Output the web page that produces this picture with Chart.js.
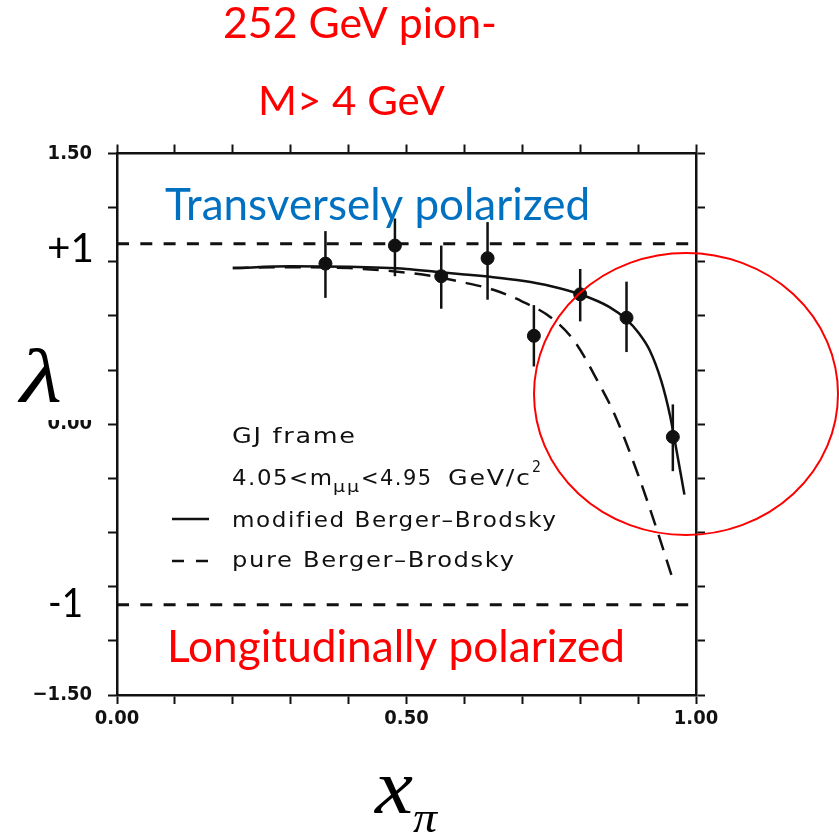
<!DOCTYPE html>
<html lang="en">
<head>
<meta charset="UTF-8">
<title>Lambda vs x_pi</title>
<script src="https://cdn.jsdelivr.net/npm/chart.js@4.4.0/dist/chart.umd.min.js"></script>
<style>
  html, body { margin: 0; padding: 0; background: #fff; }
  canvas { display: block; }
</style>
</head>
<body>
<canvas id="lambdaChart" width="839" height="835"></canvas>
<script>
// lambda measured in bins of x_pi (GJ frame, 4.05 < m < 4.95 GeV)
const xPi       = [0.36, 0.48, 0.56, 0.64, 0.72, 0.80, 0.88, 0.96];
const lambdaVal = [0.89, 0.99, 0.82, 0.92, 0.49, 0.72, 0.59, -0.07];
const lambdaHi  = [1.07, 1.14, 0.99, 1.12, 0.66, 0.86, 0.79, 0.11];
const lambdaLo  = [0.70, 0.82, 0.64, 0.69, 0.32, 0.57, 0.40, -0.26];

// modified Berger-Brodsky
const modX = [0.20, 0.30, 0.40, 0.50, 0.55, 0.60, 0.65, 0.70, 0.75, 0.80, 0.85, 0.88, 0.90, 0.92, 0.94, 0.955, 0.965, 0.98];
const modY = [0.865, 0.875, 0.872, 0.86, 0.845, 0.83, 0.815, 0.795, 0.765, 0.72, 0.65, 0.58, 0.51, 0.41, 0.24, 0.05, -0.12, -0.39];

// pure Berger-Brodsky
const pureX = [0.20, 0.30, 0.40, 0.50, 0.55, 0.60, 0.65, 0.70, 0.75, 0.79, 0.83, 0.86, 0.90, 0.93, 0.96];
const pureY = [0.865, 0.87, 0.865, 0.84, 0.818, 0.785, 0.745, 0.68, 0.59, 0.46, 0.24, 0.05, -0.28, -0.56, -0.86];

// lambda = +1 / -1 limits
const limitX = [0, 1];
const limitUp = [1, 1];
const limitDown = [-1, -1];

const xLabels = [0, 0.5, 1];
const yLabels = [-1.5, 0, 1.5];

const ink = '#111';
const pairs = (xs, ys) => xs.map((x, i) => ({ x: x, y: ys[i] }));

function tickText(v, list) {
  for (const t of list) {
    if (Math.abs(v - t) < 1e-6) return t.toFixed(2).replace('-', '\u2212');
  }
  return '';
}

const tickFont = { family: 'DejaVu Sans Condensed', size: 20, weight: 'bold' };
const grid = { drawOnChartArea: false, drawTicks: true, tickLength: 9, tickWidth: 2, tickColor: ink };
const border = { display: true, color: ink, width: 2.5 };

// stretch text horizontally to a given width
function fitText(ctx, text, left, baseline, width, font, color, spacing) {
  ctx.save();
  ctx.font = font;
  ctx.fillStyle = color;
  ctx.textAlign = 'left';
  ctx.textBaseline = 'alphabetic';
  ctx.letterSpacing = (spacing || 0) + 'px';
  const w = ctx.measureText(text).width - (spacing || 0);
  ctx.translate(left, baseline);
  ctx.scale(width / w, 1);
  ctx.fillText(text, 0, 0);
  ctx.restore();
}

// legend lettering: a little tracking, then stretched to width
function legendText(ctx, text, left, baseline, width, size) {
  fitText(ctx, text, left, baseline, width, size + 'px "DejaVu Sans"', ink, 1.5);
}

const errorBars = {
  id: 'errorBars',
  afterDatasetsDraw(chart) {
    const { ctx, scales } = chart;
    ctx.save();
    ctx.strokeStyle = ink;
    ctx.lineWidth = 2.5;
    xPi.forEach((x, i) => {
      const px = scales.x.getPixelForValue(x);
      ctx.beginPath();
      ctx.moveTo(px, scales.y.getPixelForValue(lambdaLo[i]));
      ctx.lineTo(px, scales.y.getPixelForValue(lambdaHi[i]));
      ctx.stroke();
    });
    ctx.restore();
  }
};

const annotations = {
  id: 'annotations',
  afterDraw(chart) {
    const ctx = chart.ctx;

    // legend block inside the frame
    legendText(ctx, 'GJ frame', 232, 443, 123, 22);
    legendText(ctx, '4.05<m', 232, 485, 100, 22);
    legendText(ctx, '\u03bc\u03bc', 333, 492, 26, 15);
    legendText(ctx, '<4.95', 361, 485, 70, 22);
    legendText(ctx, 'GeV/c', 448, 485, 82, 22);
    legendText(ctx, '2', 532, 472, 9, 16);
    legendText(ctx, 'modified Berger\u2013Brodsky', 232, 527, 324, 22);
    legendText(ctx, 'pure Berger\u2013Brodsky', 232, 567, 282, 22);

    ctx.save();
    ctx.strokeStyle = ink;
    ctx.lineWidth = 2.5;
    ctx.beginPath();
    ctx.moveTo(172, 519); ctx.lineTo(209, 519);
    ctx.moveTo(172, 561); ctx.lineTo(184, 561);
    ctx.moveTo(196, 561); ctx.lineTo(208, 561);
    ctx.stroke();
    ctx.restore();

    // axis titles; the lambda box hides the top of the 0.00 label
    ctx.fillStyle = '#fff';
    ctx.fillRect(0, 330, 104, 90);
    fitText(ctx, '\u03bb', 20, 402, 42, 'italic 76px "Liberation Serif"', '#000');
    fitText(ctx, 'x', 375, 813, 38, 'italic 78px "Liberation Serif"', '#000');
    fitText(ctx, '\u03c0', 413, 832, 24, 'italic 44px "Liberation Serif"', '#000');

    fitText(ctx, '+1', 47, 262, 47, '40px Lato', '#000');
    fitText(ctx, '-1', 48, 617, 35, '40px Lato', '#000');

    fitText(ctx, '252 GeV pion-', 223, 38, 274, '42px Lato', '#ff0000');
    fitText(ctx, 'M> 4 GeV', 258, 115, 187, '40px Lato', '#ff0000');
    fitText(ctx, 'Transversely polarized', 165, 220, 425, '44px Lato', '#0070c0');
    fitText(ctx, 'Longitudinally polarized', 167, 662, 458, '44px Lato', '#ff0000');

    ctx.save();
    ctx.strokeStyle = '#ff0000';
    ctx.lineWidth = 2;
    ctx.beginPath();
    ctx.ellipse(686, 394, 152, 141, 0, 0, Math.PI * 2);
    ctx.stroke();
    ctx.restore();
  }
};

new Chart(document.getElementById('lambdaChart'), {
  type: 'scatter',
  data: {
    datasets: [
      {
        label: 'data',
        data: pairs(xPi, lambdaVal),
        pointRadius: 6.5,
        pointBackgroundColor: ink,
        pointBorderColor: ink,
        showLine: false
      },
      {
        label: 'modified Berger-Brodsky',
        data: pairs(modX, modY),
        showLine: true,
        borderColor: ink,
        borderWidth: 2.5,
        pointRadius: 0,
        cubicInterpolationMode: 'monotone'
      },
      {
        label: 'pure Berger-Brodsky',
        data: pairs(pureX, pureY),
        showLine: true,
        borderColor: ink,
        borderWidth: 2.5,
        borderDash: [16, 10],
        pointRadius: 0,
        cubicInterpolationMode: 'monotone'
      },
      {
        label: '+1',
        data: pairs(limitX, limitUp),
        showLine: true,
        borderColor: ink,
        borderWidth: 3,
        borderDash: [12, 11.3],
        pointRadius: 0
      },
      {
        label: '-1',
        data: pairs(limitX, limitDown),
        showLine: true,
        borderColor: ink,
        borderWidth: 3,
        borderDash: [12, 11.3],
        pointRadius: 0
      }
    ]
  },
  options: {
    responsive: false,
    animation: false,
    layout: { padding: 0 },
    plugins: {
      legend: { display: false },
      tooltip: { enabled: false }
    },
    scales: {
      x: {
        type: 'linear', position: 'bottom', min: 0, max: 1,
        ticks: { stepSize: 0.1, autoSkip: false, maxRotation: 0, padding: 3, color: ink, font: tickFont,
                 callback: v => tickText(v, xLabels) },
        grid: grid, border: border,
        afterFit: s => { s.height = 140; }
      },
      x2: {
        type: 'linear', position: 'top', min: 0, max: 1,
        ticks: { stepSize: 0.1, autoSkip: false, maxRotation: 0, callback: () => '' },
        grid: grid, border: border,
        afterFit: s => { s.height = 153.5; }
      },
      y: {
        type: 'linear', position: 'left', min: -1.5, max: 1.5,
        ticks: { stepSize: 0.3, autoSkip: false, padding: 16, color: ink, font: tickFont,
                 callback: v => tickText(v, yLabels) },
        grid: grid, border: border,
        afterFit: s => { s.width = 117; }
      },
      y2: {
        type: 'linear', position: 'right', min: -1.5, max: 1.5,
        ticks: { stepSize: 0.3, autoSkip: false, callback: () => '' },
        grid: grid, border: border,
        afterFit: s => { s.width = 143; }
      }
    }
  },
  plugins: [errorBars, annotations]
});
</script>
</body>
</html>
